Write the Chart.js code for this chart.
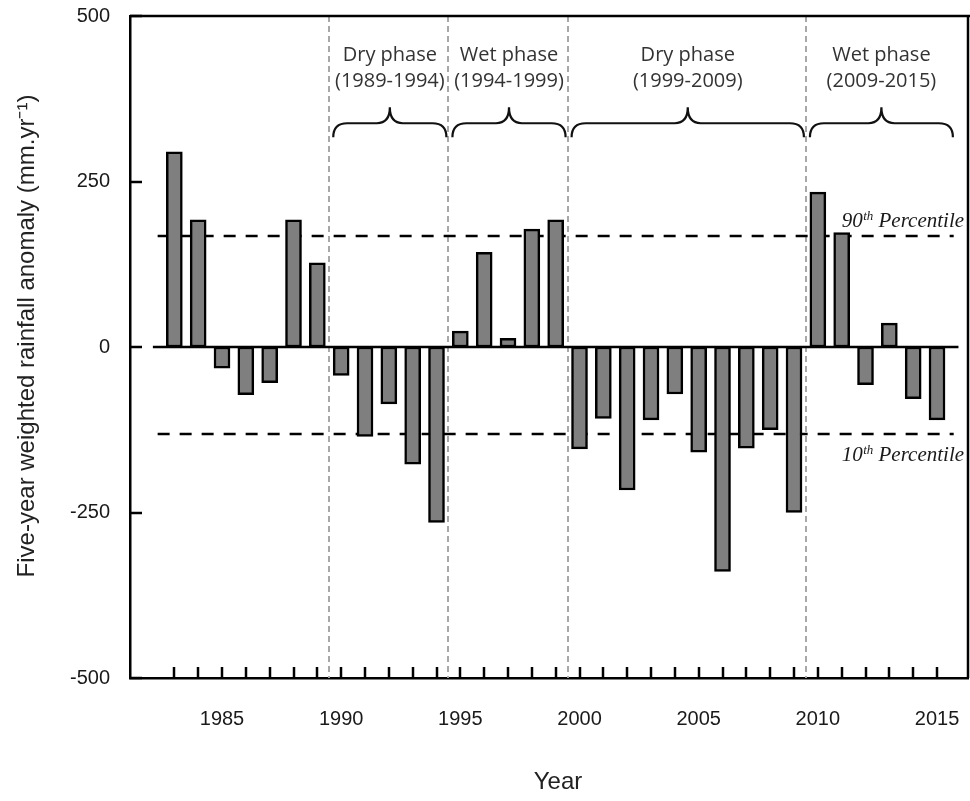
<!DOCTYPE html>
<html>
<head>
<meta charset="utf-8">
<script src="https://cdn.jsdelivr.net/npm/chart.js@4.4.1/dist/chart.umd.min.js"></script>
<style>
  html, body { margin: 0; padding: 0; background: #fff; }
  canvas { display: block; }
</style>
</head>
<body>
<canvas id="chart" width="970" height="801"></canvas>
<script>
// Five-year weighted rainfall anomaly per year (mm/yr)
const years = [1983, 1984, 1985, 1986, 1987, 1988, 1989, 1990, 1991, 1992, 1993,
               1994, 1995, 1996, 1997, 1998, 1999, 2000, 2001, 2002, 2003, 2004,
               2005, 2006, 2007, 2008, 2009, 2010, 2011, 2012, 2013, 2014, 2015];
const anomaly = [295, 192, -32, -72, -54, 192, 127, -43, -135, -86, -177,
                 -265, 24, 143, 13, 178, 192, -154, -108, -216, -110, -71,
                 -159, -339, -153, -125, -250, 234, 173, -57, 36, -78, -110];

// Axis ticks
const yTickValues = [-500, -250, 0, 250, 500];
const xLabelYears = [1985, 1990, 1995, 2000, 2005, 2010, 2015];

// Percentile thresholds
const percentile90 = 167;
const percentile10 = -132;

// Wet / dry phases
const phaseNames = ['Dry phase', 'Wet phase', 'Dry phase', 'Wet phase'];
const phaseSpans = ['(1989-1994)', '(1994-1999)', '(1999-2009)', '(2009-2015)'];
const phaseStart = [1989.5, 1994.5, 1999.5, 2009.5];
const phaseEnd   = [1994.5, 1999.5, 2009.5, 2015.75];

const X_MIN = 1981.14, X_MAX = 2016.3;
const Y_TITLE = 'Five-year weighted rainfall anomaly (mm.yr\u207B\u00B9)';
const X_TITLE = 'Year';

function strokeLine(ctx, x1, y1, x2, y2) {
  ctx.beginPath();
  ctx.moveTo(x1, y1);
  ctx.lineTo(x2, y2);
  ctx.stroke();
}

function drawBrace(ctx, x0, x1, yEnd, yMid, yTip) {
  const xc = (x0 + x1) / 2;
  const r = 14, rc = 13;
  ctx.beginPath();
  ctx.moveTo(x0, yEnd);
  ctx.quadraticCurveTo(x0, yMid, x0 + r, yMid);
  ctx.lineTo(xc - rc, yMid);
  ctx.quadraticCurveTo(xc, yMid, xc, yTip);
  ctx.quadraticCurveTo(xc, yMid, xc + rc, yMid);
  ctx.lineTo(x1 - r, yMid);
  ctx.quadraticCurveTo(x1, yMid, x1, yEnd);
  ctx.stroke();
}

function drawPercentileLabel(ctx, x, baseline, num) {
  ctx.fillStyle = '#1a1a1a';
  ctx.textAlign = 'left';
  ctx.textBaseline = 'alphabetic';
  ctx.font = 'italic 21px "Liberation Serif"';
  ctx.fillText(num, x, baseline);
  let cx = x + ctx.measureText(num).width;
  ctx.font = 'italic 13px "Liberation Serif"';
  ctx.fillText('th', cx + 0.5, baseline - 7);
  cx += ctx.measureText('th').width + 0.5;
  ctx.font = 'italic 21px "Liberation Serif"';
  ctx.fillText(' Percentile', cx, baseline);
}

const decorations = {
  id: 'decorations',
  beforeDatasetsDraw(chart) {
    const { ctx, chartArea: a, scales: { x, y } } = chart;
    ctx.save();
    // phase boundaries
    ctx.strokeStyle = '#a8a8a8';
    ctx.lineWidth = 2;
    ctx.setLineDash([6, 4]);
    phaseStart.forEach(b => {
      const px = Math.round(x.getPixelForValue(b));
      strokeLine(ctx, px, a.top, px, a.bottom);
    });
    // percentile thresholds
    ctx.strokeStyle = '#000';
    ctx.lineWidth = 2.5;
    ctx.setLineDash([12, 10]);
    [percentile90, percentile10].forEach(v => {
      const py = Math.round(y.getPixelForValue(v));
      strokeLine(ctx, x.getPixelForValue(1982.3), py, x.getPixelForValue(2015.7), py);
    });
    ctx.restore();
  },
  afterDatasetsDraw(chart) {
    const { ctx, chartArea: a, scales: { x, y } } = chart;
    ctx.save();
    ctx.strokeStyle = '#000';
    ctx.lineWidth = 2.5;
    ctx.setLineDash([]);

    // zero line
    const y0 = Math.round(y.getPixelForValue(0));
    strokeLine(ctx, x.getPixelForValue(1982.1), y0, x.getPixelForValue(2015.9), y0);

    // top and right frame
    strokeLine(ctx, a.left, a.top, chart.width, a.top);
    strokeLine(ctx, a.right, a.top, a.right, a.bottom);

    // inward tick marks
    years.forEach(yr => {
      const px = Math.round(x.getPixelForValue(yr));
      strokeLine(ctx, px, a.bottom, px, a.bottom - 11);
    });
    yTickValues.forEach(v => {
      const py = Math.round(y.getPixelForValue(v));
      strokeLine(ctx, a.left, py, a.left + 12, py);
    });

    // phase braces and labels
    const yEnd = y.getPixelForValue(317);
    const yMid = y.getPixelForValue(338);
    const yTip = y.getPixelForValue(362);
    phaseStart.forEach((s, i) => {
      const x0 = x.getPixelForValue(s) + 4;
      const x1 = x.getPixelForValue(phaseEnd[i]) - 2;
      ctx.strokeStyle = '#111';
      ctx.lineWidth = 2.2;
      drawBrace(ctx, x0, x1, yEnd, yMid, yTip);
      const xc = (x0 + x1) / 2;
      ctx.fillStyle = '#333';
      ctx.font = '20px "Open Sans"';
      ctx.textAlign = 'center';
      ctx.textBaseline = 'middle';
      ctx.fillText(phaseNames[i], xc, y.getPixelForValue(441));
      ctx.fillText(phaseSpans[i], xc, y.getPixelForValue(401));
    });

    // percentile labels
    const lx = x.getPixelForValue(2011.0);
    drawPercentileLabel(ctx, lx, y.getPixelForValue(percentile90) - 9, '90');
    drawPercentileLabel(ctx, lx, y.getPixelForValue(percentile10) + 27, '10');

    // axis titles
    ctx.fillStyle = '#222';
    ctx.font = '24px "Liberation Sans"';
    ctx.textAlign = 'center';
    ctx.textBaseline = 'middle';
    ctx.fillText(X_TITLE, (a.left + a.right) / 2 + 9, chart.height - 19);
    ctx.translate(27, (a.top + a.bottom) / 2 - 11);
    ctx.rotate(-Math.PI / 2);
    ctx.fillText(Y_TITLE, 0, 0);
    ctx.restore();
  }
};

new Chart(document.getElementById('chart'), {
  type: 'bar',
  data: {
    datasets: [{
      data: years.map((yr, i) => ({ x: yr, y: anomaly[i] })),
      backgroundColor: '#7f7f7f',
      borderColor: '#000',
      borderWidth: 2.5,
      borderSkipped: false,
      barThickness: 16
    }]
  },
  options: {
    responsive: false,
    animation: false,
    devicePixelRatio: 1,
    layout: { padding: { left: 0, top: 16, right: 2, bottom: 0 } },
    plugins: { legend: { display: false }, tooltip: { enabled: false } },
    scales: {
      x: {
        type: 'linear',
        offset: false,
        min: X_MIN,
        max: X_MAX,
        grid: { display: false, drawTicks: false, offset: false },
        border: { display: true, color: '#000', width: 2.5 },
        afterBuildTicks: s => { s.ticks = xLabelYears.map(v => ({ value: v })); },
        afterFit: s => { s.height = 123; s.paddingLeft = 0; s.paddingRight = 0; },
        ticks: {
          autoSkip: false,
          maxRotation: 0,
          padding: 29,
          color: '#1a1a1a',
          font: { family: '"Liberation Sans"', size: 20 },
          callback: v => String(v)
        }
      },
      y: {
        min: -500,
        max: 500,
        grid: { display: false, drawTicks: false },
        border: { display: true, color: '#000', width: 2.5 },
        afterBuildTicks: s => { s.ticks = yTickValues.map(v => ({ value: v })); },
        afterFit: s => { s.width = 130; s.paddingTop = 0; s.paddingBottom = 0; },
        ticks: {
          padding: 20,
          color: '#1a1a1a',
          font: { family: '"Liberation Sans"', size: 20 },
          callback: v => String(v)
        }
      }
    }
  },
  plugins: [decorations]
});
</script>
</body>
</html>
